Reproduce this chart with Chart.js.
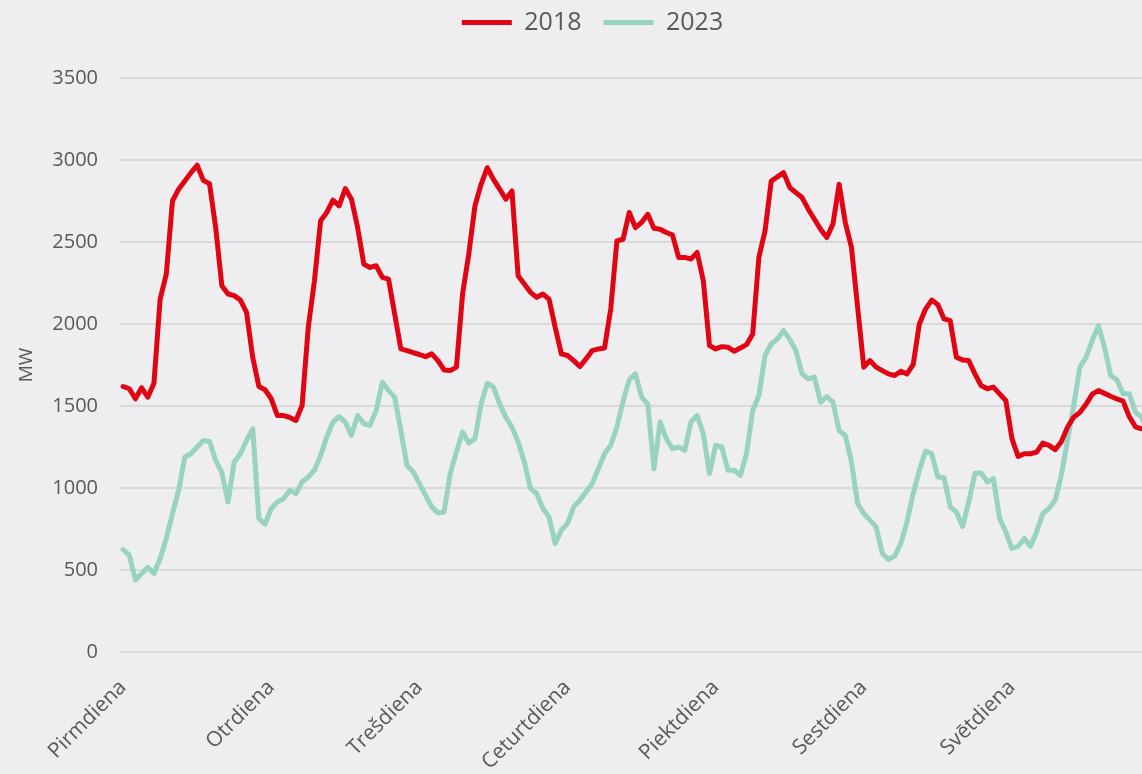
<!DOCTYPE html>
<html lang="lv">
<head>
<meta charset="utf-8">
<title>Slodze pa nedēļas dienām</title>
<script src="https://cdn.jsdelivr.net/npm/chart.js@4.4.1/dist/chart.umd.min.js"></script>
<style>
    html, body {
        margin: 0;
        padding: 0;
        overflow: hidden;
        background: #eeedf0;
    }
    #chartBox {
        width: 1157px;
        height: 774px;
    }
</style>
</head>
<body>
<div id="chartBox"><canvas id="loadChart"></canvas></div>
<script>
// Dienas un stundas (x ass kategorijas)
const dienas = ['Pirmdiena', 'Otrdiena', 'Trešdiena', 'Ceturtdiena', 'Piektdiena', 'Sestdiena', 'Svētdiena'];
const stundasDiena = 24;

// Y ass iedaļas
const yTicks = [0, 500, 1000, 1500, 2000, 2500, 3000, 3500];

// Slodze 2018 (MW), pa stundām
const slodze2018 = [
    1619, 1605, 1544, 1611, 1554, 1639, 2152, 2304, 2750, 2822, 2872, 2923, 2968, 2876, 2856, 2588, 2233, 2183, 2173, 2146, 2071, 1797, 1619, 1599,
    1544, 1442, 1442, 1430, 1412, 1503, 1980, 2264, 2629, 2680, 2755, 2720, 2826, 2761, 2588, 2365, 2345, 2355, 2284, 2274, 2061, 1848, 1838, 1826,
    1814, 1801, 1818, 1777, 1720, 1716, 1737, 2183, 2426, 2720, 2852, 2953, 2882, 2822, 2761, 2811, 2294, 2244, 2193, 2162, 2183, 2152, 1980, 1818,
    1808, 1777, 1741, 1787, 1838, 1848, 1854, 2091, 2507, 2517, 2680, 2588, 2619, 2669, 2584, 2578, 2558, 2544, 2406, 2406, 2396, 2436, 2264, 1868,
    1848, 1862, 1858, 1834, 1854, 1874, 1939, 2406, 2568, 2872, 2897, 2923, 2832, 2801, 2771, 2700, 2639, 2578, 2527, 2609, 2852, 2619, 2467, 2102,
    1737, 1777, 1737, 1716, 1696, 1686, 1712, 1696, 1753, 2000, 2091, 2146, 2118, 2031, 2020, 1797, 1781, 1777, 1696, 1625, 1605, 1615, 1574, 1534,
    1301, 1193, 1209, 1209, 1219, 1274, 1260, 1234, 1282, 1370, 1432, 1460, 1510, 1572, 1594, 1577, 1559, 1543, 1530, 1436, 1373, 1361, 1360, 1355
];

// Slodze 2023 (MW), pa stundām
const slodze2023 = [
    625, 591, 439, 479, 516, 479, 570, 692, 844, 986, 1189, 1209, 1250, 1290, 1284, 1169, 1094, 915, 1159, 1209, 1290, 1361, 814, 779,
    875, 915, 935, 985, 966, 1037, 1067, 1108, 1199, 1311, 1402, 1436, 1402, 1321, 1442, 1392, 1382, 1473, 1645, 1595, 1554, 1351, 1138, 1098,
    1027, 956, 885, 848, 854, 1088, 1220, 1341, 1274, 1301, 1513, 1639, 1615, 1513, 1432, 1371, 1280, 1159, 996, 966, 875, 824, 662, 743,
    783, 885, 925, 976, 1027, 1118, 1209, 1260, 1372, 1530, 1660, 1696, 1554, 1513, 1118, 1402, 1301, 1240, 1250, 1230, 1402, 1442, 1331, 1088,
    1260, 1250, 1108, 1108, 1077, 1209, 1473, 1564, 1808, 1878, 1909, 1960, 1905, 1838, 1696, 1666, 1676, 1524, 1558, 1524, 1351, 1321, 1159, 905,
    844, 804, 763, 601, 564, 585, 662, 793, 966, 1108, 1225, 1209, 1067, 1063, 885, 854, 765, 915, 1088, 1092, 1037, 1057, 814, 733,
    631, 645, 692, 645, 733, 844, 875, 925, 1080, 1290, 1500, 1737, 1797, 1899, 1990, 1858, 1686, 1660, 1574, 1574, 1463, 1432, 1340, 1320
];

// Kategorijas: katra nedēļas stunda
const kategorijas = dienas.flatMap(diena =>
    Array.from({ length: stundasDiena }, (_, h) => diena + ' ' + h + ':00')
);

const teksts = '#595959';
const fonts = "'Open Sans', sans-serif";

// Leģenda: vairāk vietas zem tās un neliela nobīde
const legendTweak = {
    id: 'legendTweak',
    beforeInit(chart) {
        const legend = chart.legend;
        const originalFit = legend.fit;
        const originalDraw = legend.draw;
        legend.fit = function fit() {
            originalFit.bind(legend)();
            this.height += 21;
        };
        legend.draw = function draw() {
            const ctx = chart.ctx;
            ctx.save();
            ctx.translate(14, -12);
            originalDraw.bind(legend)();
            ctx.restore();
        };
    }
};

function renderChart() {
    const ctx = document.getElementById('loadChart').getContext('2d');

    const config = {
        type: 'line',
        data: {
            labels: kategorijas,
            datasets: [
                {
                    label: '2018',
                    data: slodze2018,
                    borderColor: '#e10514',
                    backgroundColor: '#e10514',
                    borderWidth: 5,
                    borderJoinStyle: 'round',
                    borderCapStyle: 'round',
                    pointRadius: 0,
                    tension: 0
                },
                {
                    label: '2023',
                    data: slodze2023,
                    borderColor: '#97d3c0',
                    backgroundColor: '#97d3c0',
                    borderWidth: 5,
                    borderJoinStyle: 'round',
                    borderCapStyle: 'round',
                    pointRadius: 0,
                    tension: 0
                }
            ]
        },
        options: {
            responsive: true,
            maintainAspectRatio: false,
            animation: false,
            layout: { padding: 0 },
            scales: {
                x: {
                    type: 'category',
                    offset: true,
                    grid: { display: false },
                    border: { display: false },
                    afterFit(scale) {
                        scale.height = 122;
                        scale.paddingRight = 0;
                    },
                    ticks: {
                        autoSkip: false,
                        minRotation: 45,
                        maxRotation: 45,
                        padding: 15,
                        color: teksts,
                        font: { family: fonts, size: 21 },
                        callback: function (value, index) {
                            return index % stundasDiena === 0 ? dienas[index / stundasDiena] : '';
                        }
                    }
                },
                y: {
                    min: yTicks[0],
                    max: yTicks[yTicks.length - 1],
                    afterFit(scale) { scale.width = 120; },
                    afterBuildTicks(scale) {
                        scale.ticks = yTicks.map(v => ({ value: v }));
                    },
                    grid: {
                        color: '#d9d9d9',
                        lineWidth: 2,
                        drawTicks: false
                    },
                    border: { display: false },
                    ticks: {
                        padding: 22,
                        color: teksts,
                        font: { family: fonts, size: 20 },
                        callback: value => String(value)
                    },
                    title: {
                        display: true,
                        text: 'MW',
                        color: teksts,
                        padding: { top: 15, bottom: 0 },
                        font: { family: fonts, size: 19 }
                    }
                }
            },
            plugins: {
                legend: {
                    position: 'top',
                    labels: {
                        usePointStyle: true,
                        pointStyle: 'line',
                        pointStyleWidth: 50,
                        padding: 22,
                        color: teksts,
                        font: { family: fonts, size: 25 }
                    }
                },
                tooltip: { enabled: false }
            }
        },
        plugins: [legendTweak]
    };

    new Chart(ctx, config);
}

document.addEventListener('DOMContentLoaded', renderChart);
</script>
</body>
</html>
